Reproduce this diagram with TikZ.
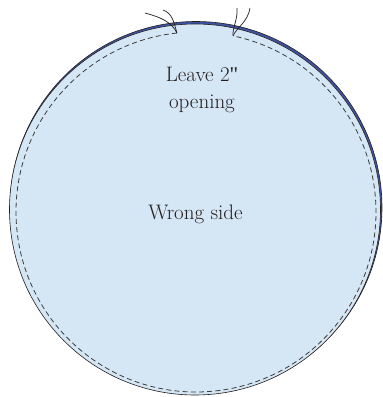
\documentclass[tikz,border=0pt]{standalone}
\usepackage{fontspec}
\newfontfamily\quotefont{Liberation Serif}
\definecolor{fabric}{HTML}{D5E6F4}
\definecolor{backfabric}{HTML}{3E54A3}
\definecolor{outline}{HTML}{231F20}
\definecolor{stitch}{HTML}{3C3C3C}
\begin{document}
\begin{tikzpicture}[
  x=1pt, y=1pt,
  lbl/.style={font=\fontsize{21}{27}\selectfont, align=center, text=outline, inner sep=0pt},
  seam/.style={stitch, line width=0.8pt, dash pattern=on 5pt off 3.2pt},
  thread/.style={outline, line width=0.7pt}
]

% Canvas: 383 x 397, seam circle centre at (196,185)
\def\sx{196}
\def\sy{185}
\useasboundingbox (0,0) rectangle (383,397);

% Back layer peeking out at the top, then the front layer
\filldraw[fill=backfabric, draw=outline, line width=0.6pt] (196,189.5) circle (186pt);
\filldraw[fill=fabric, draw=outline, line width=0.6pt] (195,187.5) circle (185.5pt);

% Ends of the seam at the opening
\coordinate (gapL) at ([shift={(\sx,\sy)}]96.1:180);
\coordinate (gapR) at ([shift={(\sx,\sy)}]78.1:180);

% Seam line, leaving the opening free
\draw[seam] (gapL) arc[start angle=96.1, end angle=438.1, radius=180];

% Loose thread ends
\draw[thread] (145,384) .. controls (160,380) and (172,375) .. (gapL);
\draw[thread] (163,387) .. controls (172,384) and (174,375) .. (gapL);
\draw[thread] (237,389) .. controls (238,377) and (232,369) .. (gapR);
\draw[thread] (250,389) .. controls (248,375) and (236,369) .. (gapR);

% Labels
\node[lbl] (opening) at (202,307) {Leave 2{\quotefont\symbol{"22}}\\opening};
\node[lbl, anchor=base] (side) at (195.5,177) {Wrong side};

\end{tikzpicture}
\end{document}
